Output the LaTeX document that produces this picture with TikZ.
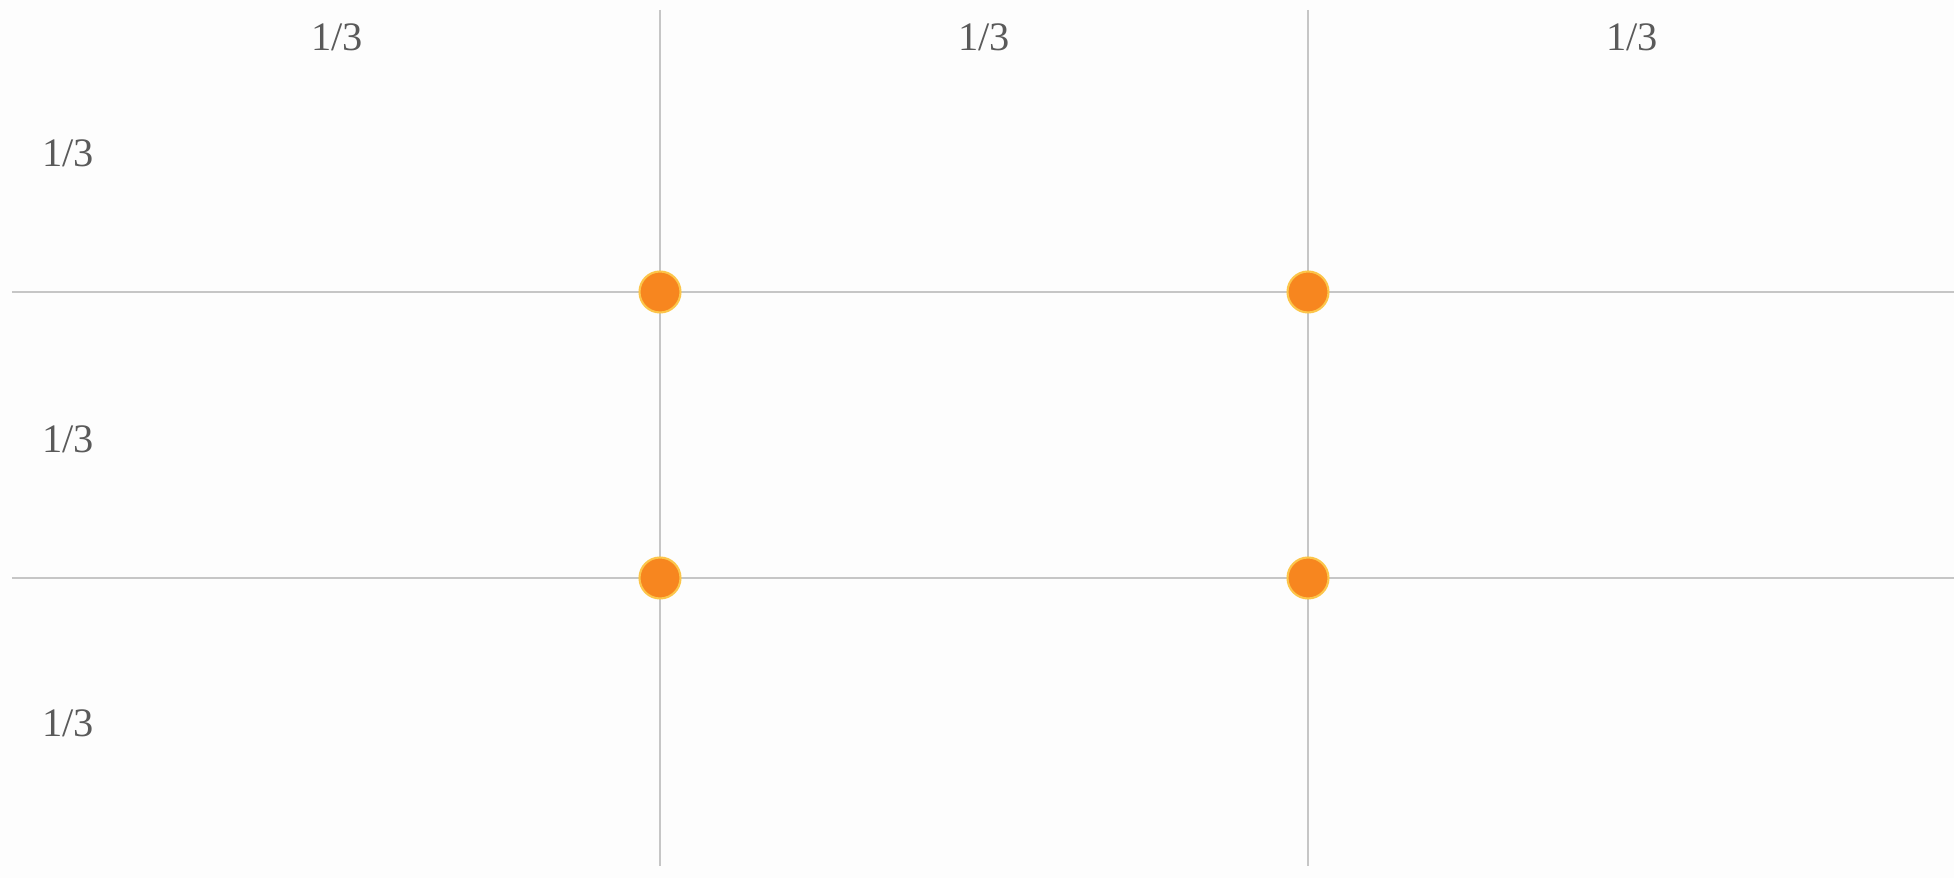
\documentclass[tikz,border=0pt]{standalone}
\usepackage{fontspec}
\setmainfont{Liberation Serif}
\usepackage{tikz}
\usetikzlibrary{positioning, calc}
\definecolor{figbg}{HTML}{FDFDFD}
\definecolor{figgrid}{HTML}{C6C6C6}
\definecolor{figdot}{HTML}{F7861F}
\definecolor{figdotrim}{HTML}{FCC54A}
\definecolor{figlabel}{HTML}{5A5A5A}
\begin{document}
\begin{tikzpicture}[
  figgridline/.style={
    draw=figgrid, line width=0.8pt,
  },
  figpoint/.style={
    circle, fill=figdot, draw=figdotrim, line width=0.6pt,
    minimum size=0.41cm, inner sep=0pt,
  },
  figthird/.style={
    text=figlabel, font=\fontsize{11.5}{13}\selectfont, inner sep=0pt,
  },
]
\fill[figbg] (0,0) rectangle (19.54,8.78);
\useasboundingbox (0,0) rectangle (19.54,8.78);
% ends of the grid lines
\coordinate (figvLtop) at (6.60,8.68);
\coordinate (figvLbot) at (6.60,0.12);
\coordinate (figvRtop) at (13.08,8.68);
\coordinate (figvRbot) at (13.08,0.12);
\coordinate (fighUleft) at (0.12,5.86);
\coordinate (fighUright) at (19.54,5.86);
\coordinate (fighDleft) at (0.12,3.00);
\coordinate (fighDright) at (19.54,3.00);
\draw[figgridline] (figvLtop) -- (figvLbot);
\draw[figgridline] (figvRtop) -- (figvRbot);
\draw[figgridline] (fighUleft) -- (fighUright);
\draw[figgridline] (fighDleft) -- (fighDright);
% power points
\node[figpoint] (figptUL) at (6.60,5.86) {};
\node[figpoint] (figptUR) at (13.08,5.86) {};
\node[figpoint] (figptDL) at (6.60,3.00) {};
\node[figpoint] (figptDR) at (13.08,3.00) {};
% thirds along the top
\node[figthird] (figcolA) at (3.37,8.41) {1/3};
\node[figthird] (figcolB) at (9.84,8.41) {1/3};
\node[figthird] (figcolC) at (16.32,8.41) {1/3};
% thirds down the side
\node[figthird] (figrowA) at (0.68,7.25) {1/3};
\node[figthird] (figrowB) at (0.68,4.39) {1/3};
\node[figthird] (figrowC) at (0.68,1.55) {1/3};
\end{tikzpicture}
\end{document}
